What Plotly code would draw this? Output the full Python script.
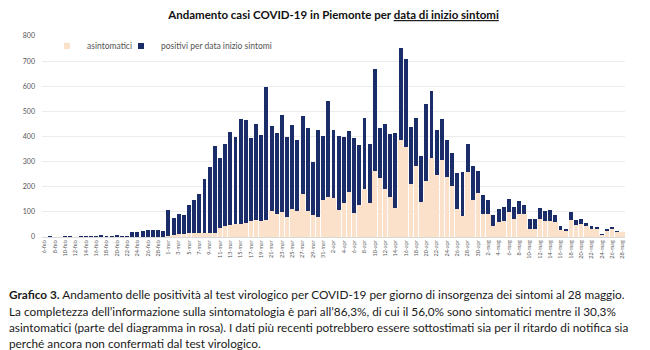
import pandas as pd
import plotly.graph_objects as go

# Daily categories 6 Feb - 28 May 2020 (Italian short month names)
mesi = {2: "feb", 3: "mar", 4: "apr", 5: "mag"}
giorni = pd.date_range("2020-02-06", "2020-05-28", freq="D")
categorie = [f"{d.day}-{mesi[d.month]}" for d in giorni]

# Total positives by symptom-onset date
positivi = [
    0, 2, 0, 0, 2, 2, 0, 2, 2, 2, 3, 4, 2, 1, 9, 2, 3,
    19, 21, 22, 26, 26, 28, 23,
    109, 76, 92, 87, 126, 147, 170, 229, 277, 364, 315, 370, 419, 398, 469, 467, 395, 450, 406, 599,
    440, 414, 487, 397, 447, 385, 483, 434, 299, 425, 403, 543, 425, 403, 398, 423, 394, 366, 473,
    370, 668, 432, 451, 411, 414, 753, 707, 438, 473, 324, 530, 583, 427, 469, 387, 335, 255, 258, 370,
    281, 263, 168, 146, 86, 112, 119, 151, 121, 145, 129, 72, 72, 116, 104, 106, 86, 43, 32, 99,
    67, 70, 55, 43, 40, 10, 33, 39, 23, 19,
]

# Asymptomatic cases (pink portion)
asintomatici = [
    0, 0, 0, 0, 0, 0, 0, 0, 0, 0, 0, 0, 0, 0, 0, 0, 0,
    0, 0, 0, 0, 0, 0, 0,
    2, 5, 10, 10, 14, 14, 16, 14, 14, 16, 34, 43, 46, 50, 52, 56, 63, 67, 64, 68,
    104, 90, 100, 80, 110, 104, 170, 104, 86, 80, 146, 160, 156, 106, 137, 179, 97, 128, 192,
    136, 262, 235, 193, 160, 116, 387, 358, 209, 282, 140, 222, 315, 245, 305, 239, 202, 110, 83, 258,
    148, 174, 93, 93, 42, 59, 62, 98, 72, 91, 93, 32, 32, 72, 65, 65, 59, 27, 22, 67,
    49, 50, 43, 32, 32, 5, 23, 32, 20, 19,
]

etichette_x = categorie[::2]

righe_didascalia = [
    "<b>Grafico 3.</b> Andamento delle positività al test virologico per COVID-19 per giorno di insorgenza dei sintomi al 28 maggio.",
    "La completezza dell’informazione sulla sintomatologia è pari all’86,3%, di cui il 56,0% sono sintomatici mentre il 30,3%",
    "asintomatici (parte del diagramma in rosa). I dati più recenti potrebbero essere sottostimati sia per il ritardo di notifica sia",
    "perché ancora non confermati dal test virologico.",
]

FONT = "Lato"
NAVY = "#1b2d68"
ROSA = "#fce1ca"

fig = go.Figure()

fig.add_trace(go.Bar(
    x=categorie, y=positivi, name="positivi per data inizio sintomi",
    marker=dict(color=NAVY, line=dict(width=0)), width=0.76, showlegend=False,
))
fig.add_trace(go.Bar(
    x=categorie, y=asintomatici, name="asintomatici",
    marker=dict(color=ROSA, line=dict(width=0)), width=0.9, showlegend=False,
))

# Legend entries with small square swatches, one legend box each
for nome, colore, leg in [("asintomatici", ROSA, "legend"),
                          ("positivi per data inizio sintomi", NAVY, "legend2")]:
    fig.add_trace(go.Scatter(
        x=[None], y=[None], mode="markers", name=nome, legend=leg,
        marker=dict(symbol="square", size=6, color=colore),
    ))

pw, ph = 583, 201.5  # plot area size in pixels

legenda_stile = dict(
    orientation="h", y=0.95, xanchor="left", yanchor="middle",
    font=dict(family=FONT, size=8.5, color="#555555"),
    bgcolor="rgba(0,0,0,0)", itemwidth=30,
)

fig.update_layout(
    width=650, height=350,
    barmode="overlay",
    paper_bgcolor="white", plot_bgcolor="white",
    margin=dict(l=42, r=25, t=36, b=112.5),
    font=dict(family=FONT, color="#555555"),
    title=dict(
        text="<b>Andamento casi COVID-19 in Piemonte per <u>data di inizio sintomi</u></b>",
        x=0.5, xref="paper", xanchor="center", y=0.957, yanchor="middle",
        font=dict(family=FONT, size=11.5, color="#111111"),
    ),
    showlegend=True,
    legend=dict(x=5 / pw, **legenda_stile),
    legend2=dict(x=79 / pw, **legenda_stile),
    xaxis=dict(
        type="category", categoryorder="array", categoryarray=categorie,
        tickmode="array", tickvals=etichette_x, ticktext=etichette_x,
        tickangle=-90, tickfont=dict(size=5.5, color="#555555"),
        showgrid=False, showline=True, linecolor="#d9d9d9", linewidth=1,
        ticks="", range=[-0.5, len(categorie) - 0.5],
    ),
    yaxis=dict(
        range=[0, 800], dtick=100, tickfont=dict(size=7, color="#555555"),
        showgrid=True, gridcolor="#ececec", gridwidth=1,
        zeroline=False, showline=False, ticks="", ticklabelstandoff=6,
    ),
    bargap=0,
)

# Caption lines below the chart
for riga, ypix in zip(righe_didascalia, [295.5, 312, 328.5, 344]):
    fig.add_annotation(
        text=riga, xref="paper", yref="paper",
        x=(8 - 42) / pw, y=(237.5 - ypix) / ph, xanchor="left", yanchor="middle",
        align="left", showarrow=False, borderpad=0,
        font=dict(family=FONT, size=11.8, color="#1a1a1a"),
    )

fig.write_html("out.html")
